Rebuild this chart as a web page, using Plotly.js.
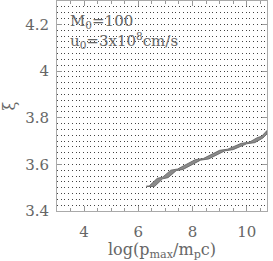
<!DOCTYPE html>
<html><head><meta charset="utf-8">
<script src="https://cdn.plot.ly/plotly-3.0.1.min.js"></script>
<style>html,body{margin:0;padding:0;background:#fff}#c{width:273px;height:261px}</style>
</head><body><div id="c"></div>
<script>
const upperX = [6.3, 6.4, 6.7, 6.9, 7.2, 7.45, 8.1, 8.4, 9.0, 9.3, 9.8, 10.1, 10.4, 10.55, 10.75];
const upperY = [3.507, 3.507, 3.54, 3.545, 3.575, 3.58, 3.62, 3.625, 3.66, 3.665, 3.69, 3.695, 3.715, 3.72, 3.745];
const lowerX = [6.3, 6.6, 6.9, 7.1, 7.4, 7.65, 8.3, 8.6, 9.2, 9.5, 10.0, 10.3, 10.6, 10.75];
const lowerY = [3.505, 3.505, 3.538, 3.543, 3.573, 3.578, 3.618, 3.623, 3.658, 3.663, 3.688, 3.693, 3.713, 3.73];
const xTicks = [4, 6, 8, 10];
const yTicks = [3.4, 3.6, 3.8, 4.0, 4.2];
const yTickText = ['3.4', '3.6', '3.8', '4', '4.2'];
const labelM = 'M<sub>0</sub>=100';
const labelU = 'u<sub>0</sub>=3x10<sup>8</sup>cm/s';

const font = {family: 'DejaVu Serif, Liberation Serif, serif', color: '#666', size: 15};
const polyX = upperX.concat(lowerX.slice().reverse());
const polyY = upperY.concat(lowerY.slice().reverse());
const traces = [
  {x: polyX, y: polyY, mode: 'lines', fill: 'toself', fillcolor: '#8a8a8a',
   line: {color: '#666', width: 0.9}, hoverinfo: 'skip', showlegend: false}
];
const axisCommon = {
  showline: true, linecolor: '#aaa', linewidth: 1, mirror: 'allticks',
  ticks: 'inside', ticklen: 5, tickcolor: '#999', tickwidth: 1,
  zeroline: false, tickfont: font
};
const layout = {
  width: 273, height: 261,
  margin: {l: 57, r: 6, t: 1, b: 50},
  paper_bgcolor: '#fff', plot_bgcolor: '#fff',
  font: font,
  xaxis: Object.assign({}, axisCommon, {
    range: [3, 10.75], tickvals: xTicks, ticktext: xTicks.map(String),
    showgrid: false, ticklabelstandoff: 7,
    minor: {dtick: 0.5, ticks: 'inside', ticklen: 3, tickcolor: '#999', showgrid: false},
    title: {text: 'log(p<sub>max</sub>/m<sub>p</sub>c)', font: Object.assign({}, font, {size: 16}), standoff: 3}
  }),
  yaxis: Object.assign({}, axisCommon, {
    range: [3.4, 4.3], tickvals: yTicks, ticktext: yTickText,
    showgrid: true, gridcolor: '#444', gridwidth: 1, griddash: '1px,2.7px',
    ticklabelstandoff: 4,
    minor: {dtick: 0.025, ticks: '', showgrid: true, gridcolor: '#444', gridwidth: 1, griddash: '1px,2.7px'},
    title: {text: 'ξ', font: Object.assign({}, font, {size: 16}), standoff: 10}
  }),
  annotations: [
    {xref: 'paper', yref: 'paper', x: 0.05, y: 0.9, xanchor: 'left', yanchor: 'middle', text: labelM, showarrow: false, font: font},
    {xref: 'paper', yref: 'paper', x: 0.05, y: 0.814, xanchor: 'left', yanchor: 'middle', text: labelU, showarrow: false, font: font}
  ]
};
Plotly.newPlot('c', traces, layout, {displayModeBar: false, staticPlot: true});
</script></body></html>
